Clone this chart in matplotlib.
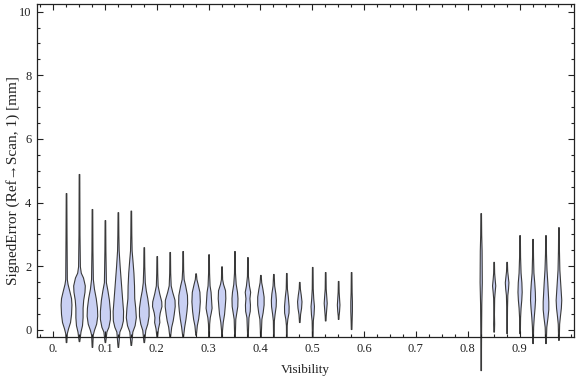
import matplotlib
matplotlib.use('Agg')
import matplotlib.pyplot as plt
from matplotlib.ticker import MultipleLocator, FixedLocator
import numpy as np

plt.rcParams['font.family'] = ['Liberation Serif', 'DejaVu Serif']

# violin positions (visibility)
positions = [0.025, 0.05, 0.075, 0.1, 0.125, 0.15, 0.175, 0.2, 0.225, 0.25,
             0.275, 0.3, 0.325, 0.35, 0.375, 0.4, 0.425, 0.45, 0.475, 0.5,
             0.525, 0.55, 0.575,
             0.825, 0.85, 0.875, 0.9, 0.925, 0.95, 0.975]

# shape of each violin: (signed error mm, relative density)
shapes = [
    [(4.3, .3), (3.0, .5), (1.6, .8), (1.45, 1.5), (1.2, 3.5), (1.0, 5.0), (0.8, 5.4), (0.5, 5.0), (0.25, 4.0), (0.05, 2.0), (-0.1, .8), (-0.38, .3)],
    [(4.9, .3), (3.0, .5), (2.0, .9), (1.8, 1.8), (1.65, 4.0), (1.4, 5.8), (1.2, 5.5), (0.95, 4.2), (0.7, 3.6), (0.4, 3.6), (0.15, 3.0), (-0.05, 1.5), (-0.35, .3)],
    [(3.8, .3), (2.5, .5), (1.6, .9), (1.3, 2.0), (1.0, 3.8), (0.7, 5.0), (0.45, 5.3), (0.2, 4.2), (0.0, 2.0), (-0.15, .8), (-0.53, .3)],
    [(3.45, .3), (2.5, .5), (1.5, 1.0), (1.25, 2.5), (0.95, 4.0), (0.6, 5.0), (0.35, 5.0), (0.1, 3.5), (-0.05, 1.5), (-0.38, .3)],
    [(3.7, .3), (3.0, .5), (2.5, .8), (2.0, 1.8), (1.5, 3.0), (1.0, 4.2), (0.6, 5.2), (0.3, 5.0), (0.1, 3.5), (-0.05, 1.5), (-0.53, .3)],
    [(3.75, .3), (3.0, .5), (2.5, .8), (2.2, 1.6), (1.8, 2.6), (1.4, 3.2), (1.0, 3.4), (0.7, 4.4), (0.4, 5.0), (0.15, 3.8), (-0.05, 1.5), (-0.47, .3)],
    [(2.6, .3), (2.0, .5), (1.5, 1.0), (1.25, 2.0), (1.0, 3.5), (0.7, 4.8), (0.45, 4.8), (0.2, 3.5), (0.0, 1.5), (-0.38, .3)],
    [(2.32, .3), (1.8, .5), (1.4, .9), (1.15, 2.5), (0.9, 4.5), (0.75, 4.7), (0.55, 3.0), (0.4, 2.3), (0.25, 2.6), (0.05, 1.2), (-0.22, .3)],
    [(2.45, .3), (1.8, .5), (1.4, 1.0), (1.2, 2.5), (0.95, 4.8), (0.75, 5.0), (0.5, 4.0), (0.3, 3.0), (0.1, 1.5), (-0.22, .3)],
    [(2.48, .3), (1.9, .5), (1.6, 1.0), (1.4, 2.5), (1.1, 4.3), (0.85, 4.5), (0.6, 3.8), (0.35, 2.8), (0.1, 1.5), (-0.22, .3)],
    [(1.78, .3), (1.6, .8), (1.45, 2.0), (1.2, 3.8), (0.9, 4.2), (0.6, 3.5), (0.35, 2.5), (0.15, 1.2), (-0.15, .3)],
    [(2.38, .3), (1.8, .5), (1.4, 1.0), (1.2, 2.0), (0.95, 2.5), (0.7, 3.0), (0.55, 2.2), (0.4, 1.2), (0.2, .6), (-0.22, .3)],
    [(2.0, .3), (1.6, .6), (1.45, 1.5), (1.25, 3.5), (1.0, 3.8), (0.75, 3.2), (0.5, 2.5), (0.25, 1.2), (0.0, .5), (-0.22, .3)],
    [(2.48, .3), (1.8, .5), (1.45, 1.2), (1.2, 2.5), (1.0, 3.0), (0.75, 2.8), (0.55, 1.8), (0.35, .8), (-0.22, .3)],
    [(2.29, .3), (1.7, .5), (1.4, 1.5), (1.2, 2.7), (1.0, 2.0), (0.8, 2.5), (0.6, 2.3), (0.4, 1.0), (-0.2, .3)],
    [(1.73, .3), (1.5, .8), (1.3, 2.0), (1.05, 3.2), (0.8, 3.2), (0.55, 2.2), (0.35, 1.0), (-0.2, .3)],
    [(1.76, .3), (1.4, .8), (1.15, 2.0), (0.95, 2.5), (0.75, 2.3), (0.5, 1.2), (0.3, .5), (-0.2, .3)],
    [(1.79, .3), (1.3, .6), (1.05, 1.5), (0.75, 2.3), (0.55, 2.2), (0.35, 1.0), (0.15, .4), (-0.2, .3)],
    [(1.51, .3), (1.3, .6), (1.1, 1.5), (0.9, 2.2), (0.7, 1.8), (0.5, .8), (0.25, .3)],
    [(1.98, .3), (1.3, .5), (1.0, 1.0), (0.75, 1.7), (0.5, 1.3), (0.3, .6), (-0.22, .3)],
    [(1.82, .3), (1.3, .5), (1.0, 1.2), (0.85, 1.5), (0.65, 1.0), (0.45, .5), (0.3, .3)],
    [(1.54, .3), (1.2, .5), (0.95, 1.0), (0.8, 1.3), (0.6, .9), (0.45, .4), (0.35, .3)],
    [(1.82, .3), (1.2, .5), (0.9, .8), (0.6, .8), (0.3, .5), (0.03, .3)],
    [(3.67, .3), (3.0, .5), (2.5, .9), (1.5, 1.1), (0.8, .6), (0.0, .4), (-0.6, .3), (-1.26, .3)],
    [(2.14, .3), (1.8, .5), (1.6, 1.0), (1.4, 1.6), (1.2, 1.0), (1.0, .5), (0.5, .3), (0.2, .5), (-0.05, .3)],
    [(2.14, .3), (1.85, .6), (1.65, 1.3), (1.5, 1.8), (1.3, 1.4), (1.1, .7), (0.7, .4), (0.3, .3), (-0.1, .3)],
    [(2.98, .3), (2.3, .5), (1.8, 1.0), (1.5, 1.8), (1.2, 2.1), (0.95, 1.7), (0.7, 1.0), (0.4, .5), (-0.1, .3)],
    [(2.86, .3), (2.3, .5), (1.8, .9), (1.5, 1.7), (1.2, 2.3), (0.95, 2.5), (0.7, 2.0), (0.4, 1.2), (0.1, .6), (-0.41, .3)],
    [(2.98, .3), (2.4, .5), (1.9, 1.0), (1.5, 1.8), (1.2, 2.3), (0.9, 2.8), (0.65, 2.8), (0.4, 2.0), (0.1, .8), (-0.41, .3)],
    [(3.23, .3), (2.5, .5), (1.9, .9), (1.5, 1.7), (1.2, 2.3), (0.95, 2.8), (0.7, 2.4), (0.45, 1.5), (0.2, .7), (-0.31, .3)],
]

x_major = [0.0, 0.1, 0.2, 0.3, 0.4, 0.5, 0.6, 0.7, 0.8, 0.9]
x_labels = ['0.', '0.1', '0.2', '0.3', '0.4', '0.5', '0.6', '0.7', '0.8', '0.9']
y_major = [0, 2, 4, 6, 8, 10]

DENS_PER_X = 517.0   # relative density unit -> data half width

fig = plt.figure(figsize=(5.76, 3.77), dpi=100)
ax = fig.add_axes([37/576, 40/377, 537/576, 333/377])

stats = []
widths = []
for sh in shapes:
    y = np.array([p[0] for p in sh])[::-1]
    d = np.array([p[1] for p in sh])[::-1]
    stats.append(dict(coords=y, vals=d, mean=np.mean(y), median=np.median(y),
                      min=y.min(), max=y.max()))
    widths.append(2 * d.max() / DENS_PER_X)

parts = ax.violin(stats, positions=positions, widths=widths,
                  showmeans=False, showextrema=False, showmedians=False)
for b in parts['bodies']:
    b.set_facecolor('#c9d0f3')
    b.set_edgecolor('#3a3a3a')
    b.set_linewidth(0.8)
    b.set_alpha(1)
    b.set_clip_on(False)

ax.set_xlim(-0.031, 1.005)
ax.set_ylim(-0.22, 10.24)

ax.xaxis.set_major_locator(FixedLocator(x_major))
ax.set_xticklabels(x_labels)
ax.xaxis.set_minor_locator(MultipleLocator(0.025))
ax.yaxis.set_major_locator(FixedLocator(y_major))
ax.yaxis.set_minor_locator(MultipleLocator(0.5))
ax.tick_params(which='both', direction='in', top=True, right=True,
               color='#222222', width=0.8, labelsize=9, labelcolor='#222222')
ax.tick_params(which='major', length=4.5, pad=4)
ax.tick_params(which='minor', length=2.5)
for s in ax.spines.values():
    s.set_color('#222222')
    s.set_linewidth(0.9)

ax.set_xlabel('Visibility', fontsize=9.5, color='#222222', labelpad=7)
ax.set_ylabel('SignedError (Ref\u2192Scan, 1) [mm]', fontsize=11, color='#222222')
ax.yaxis.set_label_coords(-17/537, 0.47)

fig.savefig('out.png', dpi=100)
